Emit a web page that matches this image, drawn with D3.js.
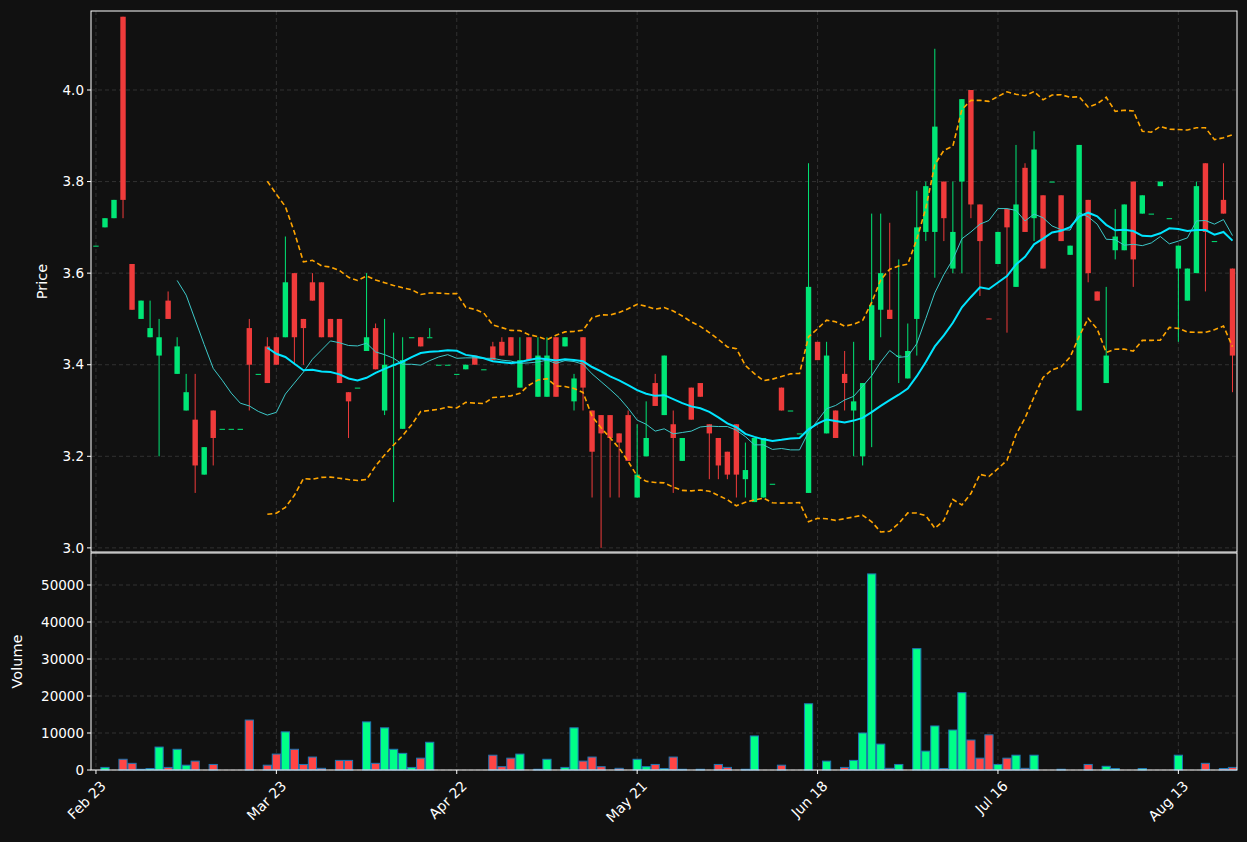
<!DOCTYPE html>
<html><head><meta charset="utf-8">
<script src="https://cdn.jsdelivr.net/npm/d3@7"></script>
<style>body{margin:0;background:#111111}svg{display:block}</style>
</head><body><svg id="c" width="1247" height="842"></svg>
<script>
const opens=[3.66,3.70,3.72,4.16,3.62,3.50,3.46,3.42,3.54,3.38,3.30,3.28,3.16,3.30,3.26,3.26,3.26,3.48,3.38,3.44,3.46,3.46,3.60,3.50,3.58,3.58,3.50,3.50,3.34,3.35,3.43,3.48,3.30,3.40,3.26,3.46,3.46,3.46,3.40,3.40,3.38,3.39,3.42,3.39,3.44,3.45,3.46,3.35,3.46,3.33,3.33,3.46,3.44,3.32,3.46,3.30,3.29,3.29,3.25,3.29,3.11,3.20,3.36,3.29,3.27,3.19,3.35,3.36,3.27,3.24,3.21,3.27,3.15,3.10,3.11,3.14,3.35,3.30,3.25,3.12,3.45,3.25,3.30,3.38,3.30,3.20,3.41,3.52,3.52,3.42,3.37,3.50,3.69,3.69,3.80,3.61,3.80,4.00,3.75,3.501,3.62,3.74,3.57,3.83,3.72,3.77,3.80,3.77,3.64,3.30,3.76,3.56,3.36,3.65,3.65,3.80,3.73,3.73,3.79,3.72,3.61,3.54,3.60,3.84,3.67,3.76,3.61];
const closes=[3.66,3.72,3.76,3.76,3.52,3.54,3.48,3.46,3.50,3.44,3.34,3.18,3.22,3.24,3.26,3.26,3.26,3.40,3.38,3.36,3.40,3.58,3.46,3.48,3.54,3.46,3.46,3.36,3.32,3.35,3.46,3.39,3.40,3.40,3.41,3.46,3.44,3.46,3.40,3.40,3.38,3.40,3.40,3.39,3.41,3.42,3.42,3.41,3.41,3.42,3.42,3.33,3.46,3.37,3.35,3.21,3.25,3.24,3.23,3.19,3.16,3.24,3.31,3.42,3.24,3.24,3.28,3.33,3.25,3.18,3.16,3.16,3.17,3.24,3.24,3.14,3.30,3.30,3.25,3.57,3.41,3.42,3.24,3.36,3.32,3.36,3.53,3.60,3.50,3.42,3.43,3.70,3.79,3.92,3.72,3.69,3.98,3.75,3.67,3.50,3.69,3.70,3.75,3.69,3.87,3.61,3.80,3.67,3.66,3.88,3.60,3.54,3.42,3.68,3.75,3.63,3.77,3.73,3.80,3.72,3.66,3.61,3.79,3.69,3.67,3.73,3.42];
const highs=[3.66,3.72,3.76,4.16,3.62,3.54,3.54,3.50,3.56,3.46,3.38,3.38,3.22,3.30,3.26,3.26,3.26,3.50,3.38,3.46,3.46,3.68,3.60,3.50,3.60,3.58,3.50,3.50,3.34,3.35,3.60,3.49,3.50,3.47,3.46,3.46,3.46,3.48,3.40,3.40,3.38,3.40,3.42,3.39,3.45,3.46,3.46,3.46,3.46,3.46,3.46,3.46,3.46,3.38,3.46,3.30,3.29,3.29,3.25,3.30,3.27,3.32,3.38,3.42,3.30,3.24,3.35,3.36,3.27,3.24,3.21,3.27,3.23,3.24,3.24,3.14,3.35,3.30,3.25,3.84,3.45,3.45,3.30,3.43,3.45,3.36,3.73,3.73,3.71,3.63,3.49,3.78,3.80,4.09,3.80,3.80,3.98,4.00,3.75,3.501,3.69,3.74,3.88,3.84,3.91,3.77,3.80,3.77,3.66,3.88,3.76,3.56,3.57,3.74,3.75,3.80,3.77,3.73,3.80,3.72,3.66,3.61,3.80,3.84,3.67,3.84,3.61];
const lows=[3.66,3.70,3.72,3.72,3.52,3.50,3.46,3.20,3.50,3.38,3.30,3.12,3.16,3.18,3.26,3.26,3.26,3.30,3.38,3.36,3.40,3.46,3.40,3.40,3.54,3.46,3.46,3.36,3.24,3.35,3.43,3.39,3.29,3.10,3.26,3.46,3.44,3.46,3.40,3.40,3.38,3.39,3.40,3.39,3.41,3.42,3.42,3.35,3.41,3.33,3.33,3.33,3.44,3.30,3.30,3.11,3.00,3.11,3.11,3.19,3.11,3.20,3.31,3.29,3.12,3.19,3.28,3.33,3.15,3.15,3.15,3.11,3.11,3.10,3.11,3.14,3.30,3.30,3.25,3.12,3.41,3.25,3.24,3.30,3.20,3.18,3.22,3.46,3.50,3.36,3.37,3.42,3.67,3.59,3.67,3.60,3.60,3.72,3.55,3.50,3.62,3.47,3.57,3.69,3.67,3.61,3.80,3.67,3.64,3.30,3.58,3.54,3.36,3.63,3.65,3.57,3.73,3.73,3.79,3.72,3.45,3.54,3.60,3.56,3.67,3.73,3.34];
const volumes=[0,700,0,2900,1800,200,400,6200,700,5600,1300,2400,0,1500,0,0,0,13500,0,1300,4300,10300,5600,1500,3500,450,0,2600,2600,0,13000,1800,11400,5600,4500,700,3200,7500,0,0,0,0,0,0,4000,900,3200,4300,0,200,2900,0,700,11400,2400,3500,900,0,450,0,2900,900,1500,400,3500,200,0,200,0,1500,700,0,200,9200,0,0,1300,0,0,17900,0,2400,0,700,2600,10000,53000,7000,450,1500,0,32800,5100,11900,400,10800,20900,8100,3200,9500,1500,3200,4000,450,4000,0,0,200,0,0,1500,0,1000,400,0,0,400,0,0,0,4000,0,0,1800,0,400,700];
const tickIdx=[0,20,40,60,80,100,120];
const tickLabels=["Feb 23","Mar 23","Apr 22","May 21","Jun 18","Jul 16","Aug 13"];
const priceTicks=[3.0,3.2,3.4,3.6,3.8,4.0];
const volTicks=[0,10000,20000,30000,40000,50000];

const svg=d3.select("#c");
const L=91,R=1237,pT=11,pB=552,vT=553,vB=770;
const n=opens.length;
const x=d3.scaleLinear().domain([-0.55,126.5]).range([L,R]);
const yP=d3.scaleLinear().domain([2.991,4.1725]).range([pB,pT]);
const yV=d3.scaleLinear().domain([0,58650]).range([vB,vT]);
const GREEN="#00e676",RED="#ef3b3b",VG="#00ff88",VR="#ff4545";
const font="DejaVu Sans, sans-serif";

svg.append("rect").attr("width",1247).attr("height",842).attr("fill","#111111");
const grid=svg.append("g").attr("stroke","#3a3a3a").attr("stroke-dasharray","4,3").attr("stroke-width",0.8);
priceTicks.forEach(t=>grid.append("line").attr("x1",L).attr("x2",R).attr("y1",yP(t)).attr("y2",yP(t)));
volTicks.forEach(t=>grid.append("line").attr("x1",L).attr("x2",R).attr("y1",yV(t)).attr("y2",yV(t)));
tickIdx.forEach(t=>{grid.append("line").attr("x1",x(t)).attr("x2",x(t)).attr("y1",pT).attr("y2",pB);
  grid.append("line").attr("x1",x(t)).attr("x2",x(t)).attr("y1",vT).attr("y2",vB);});

const data=d3.range(n).map(i=>({i,o:opens[i],c:closes[i],h:highs[i],l:lows[i],v:volumes[i]}));
const cg=svg.append("g");
data.forEach(d=>{
  const col=d.c>=d.o?GREEN:RED;
  cg.append("line").attr("x1",x(d.i)).attr("x2",x(d.i)).attr("y1",yP(d.h)).attr("y2",yP(d.l)).attr("stroke",col).attr("stroke-width",1);
  const top=yP(Math.max(d.o,d.c)),bot=yP(Math.min(d.o,d.c));
  cg.append("rect").attr("x",x(d.i)-2.7).attr("width",5.4).attr("y",top).attr("height",Math.max(bot-top,1)).attr("fill",col);
});
function ma(w){return data.map((d,i)=>{if(i<w-1)return null;const s=closes.slice(i-w+1,i+1);return {i,m:d3.mean(s),s:d3.deviation(s)};});}
const m10=ma(10).filter(Boolean),m20=ma(20).filter(Boolean);
const line=f=>d3.line().x(d=>x(d.i)).y(f);
svg.append("path").datum(m10).attr("d",line(d=>yP(d.m))).attr("fill","none").attr("stroke","#3cc8c8").attr("stroke-width",1);
svg.append("path").datum(m20).attr("d",line(d=>yP(d.m))).attr("fill","none").attr("stroke","#00e5ff").attr("stroke-width",2);
[1,-1].forEach(k=>svg.append("path").datum(m20).attr("d",line(d=>yP(d.m+k*2*d.s))).attr("fill","none").attr("stroke","#ffa500").attr("stroke-width",1.6).attr("stroke-dasharray","5,3"));
svg.append("g").selectAll("rect").data(data.filter(d=>d.v>0)).join("rect")
  .attr("x",d=>x(d.i)-4.1).attr("width",8.2).attr("y",d=>yV(d.v)).attr("height",d=>yV(0)-yV(d.v))
  .attr("fill",d=>d.c>=d.o?VG:VR).attr("stroke","#1f77b4").attr("stroke-width",1);

[[pT,pB],[vT,vB]].forEach(([a,b])=>svg.append("rect").attr("x",L).attr("y",a).attr("width",R-L).attr("height",b-a).attr("fill","none").attr("stroke","#ffffff").attr("stroke-width",1));
const ax=svg.append("g").attr("fill","#ffffff").attr("font-family",font).attr("font-size",13.5);
priceTicks.forEach(t=>{ax.append("line").attr("x1",L-4).attr("x2",L).attr("y1",yP(t)).attr("y2",yP(t)).attr("stroke","#fff");
  ax.append("text").attr("x",L-7).attr("y",yP(t)).attr("dy","0.35em").attr("text-anchor","end").text(t.toFixed(1));});
volTicks.forEach(t=>{ax.append("line").attr("x1",L-4).attr("x2",L).attr("y1",yV(t)).attr("y2",yV(t)).attr("stroke","#fff");
  ax.append("text").attr("x",L-7).attr("y",yV(t)).attr("dy","0.35em").attr("text-anchor","end").text(t);});
tickIdx.forEach((t,k)=>{ax.append("line").attr("x1",x(t)).attr("x2",x(t)).attr("y1",vB).attr("y2",vB+4).attr("stroke","#fff");
  ax.append("text").attr("transform",`translate(${x(t)+4},${vB+10}) rotate(-45)`).attr("text-anchor","end").attr("dy","0.7em").attr("font-size",14).text(tickLabels[k]);});
ax.append("text").attr("transform",`translate(47,${(pT+pB)/2}) rotate(-90)`).attr("text-anchor","middle").attr("font-size",14.5).text("Price");
ax.append("text").attr("transform",`translate(22,${(vT+vB)/2}) rotate(-90)`).attr("text-anchor","middle").attr("font-size",14.5).text("Volume");
</script></body></html>
